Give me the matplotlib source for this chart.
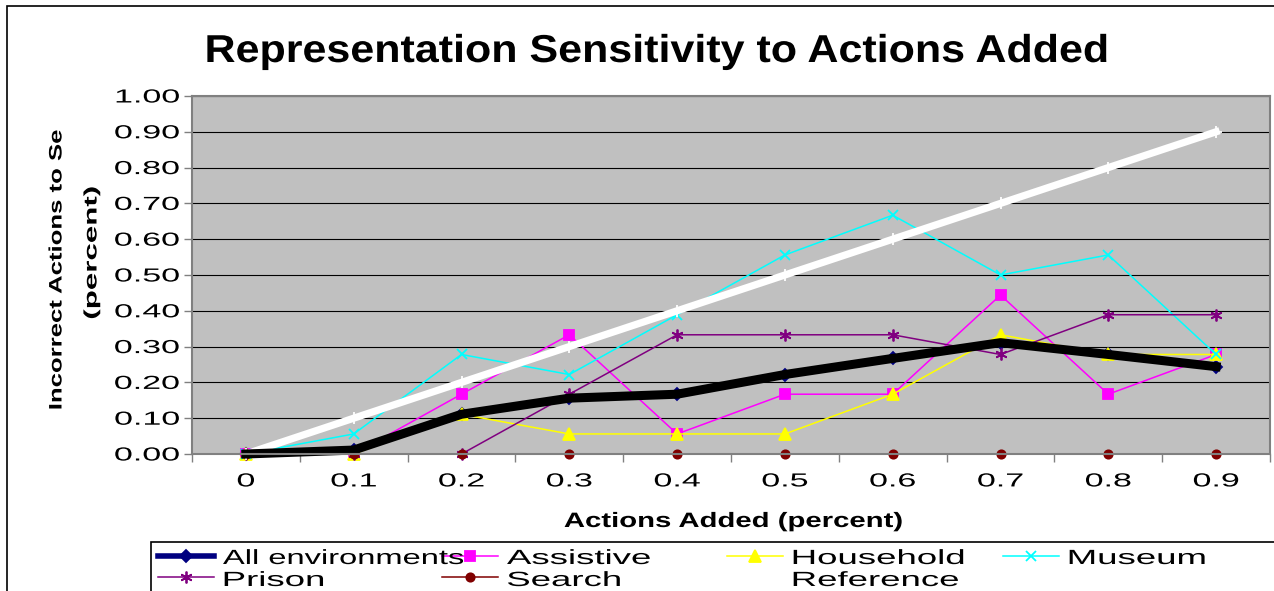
import matplotlib
matplotlib.use('Agg')
import numpy as np
import matplotlib.pyplot as plt
from matplotlib.patheffects import AbstractPathEffect
from matplotlib.transforms import Affine2D
from matplotlib.lines import Line2D
from matplotlib.patches import Rectangle

plt.rcParams['font.family'] = ['Liberation Sans', 'DejaVu Sans']

W, H = 1274, 591

# ---- data ----
actions_added = ['0', '0.1', '0.2', '0.3', '0.4', '0.5', '0.6', '0.7', '0.8', '0.9']
all_env = [0.0, 0.011, 0.111, 0.156, 0.167, 0.222, 0.267, 0.311, 0.278, 0.244]
assistive = [0.0, 0.0, 0.167, 0.333, 0.056, 0.167, 0.167, 0.444, 0.167, 0.278]
household = [0.0, 0.0, 0.111, 0.056, 0.056, 0.056, 0.167, 0.333, 0.278, 0.278]
museum = [0.0, 0.056, 0.278, 0.222, 0.389, 0.556, 0.667, 0.500, 0.556, 0.278]
prison = [0.0, 0.0, 0.0, 0.167, 0.333, 0.333, 0.333, 0.278, 0.389, 0.389]
search = [0.0, 0.0, 0.0, 0.0, 0.0, 0.0, 0.0, 0.0, 0.0, 0.0]
reference = [0.0, 0.1, 0.2, 0.3, 0.4, 0.5, 0.6, 0.7, 0.8, 0.9]
y_ticks = [0.0, 0.1, 0.2, 0.3, 0.4, 0.5, 0.6, 0.7, 0.8, 0.9, 1.0]

ASTERISK = (6, 2, 0)
series = [
    # label, values, color, marker, marker size, line width
    ('All environments', all_env, '#000080', 'D', 6, 4.0),
    ('Assistive', assistive, '#FF00FF', 's', 6.5, 1.1),
    ('Household', household, '#FFFF00', '^', 8, 1.1),
    ('Museum', museum, '#00FFFF', 'x', 7, 1.1),
    ('Prison', prison, '#800080', ASTERISK, 8.5, 1.1),
    ('Search', search, '#800000', 'o', 6, 1.1),
    ('Reference', reference, '#FFFFFF', '+', 8, 5.2),
]


class Stretch(AbstractPathEffect):
    """Widen text glyphs horizontally around a fixed anchor."""
    def __init__(self, sx, anchor='center'):
        super().__init__()
        self.sx = sx
        self.anchor = anchor

    def draw_path(self, renderer, gc, tpath, affine, rgbFace=None):
        ext = tpath.get_extents()
        x0 = {'left': ext.x0, 'right': ext.x1}.get(self.anchor, (ext.x0 + ext.x1) / 2)
        t = Affine2D().translate(-x0, 0).scale(self.sx, 1).translate(x0, 0) + affine
        renderer.draw_path(gc, tpath, t, rgbFace)


def fx(x):
    return x / W


def fy(y):
    return 1 - y / H


fig = plt.figure(figsize=(W / 100, H / 100), dpi=100)
renderer = fig.canvas.get_renderer()


def fit(txt, target, anchor='center', vertical=False):
    bb = txt.get_window_extent(renderer)
    length = bb.height if vertical else bb.width
    txt.set_path_effects([Stretch(target / length, anchor)])


# outer chart border (only left/top fall inside the image)
fig.add_artist(Rectangle((fx(7), -0.2), 1.2, fy(6) + 0.2, transform=fig.transFigure,
                         fill=False, edgecolor='black', lw=1.2))

ax = fig.add_axes([fx(192), fy(454), (1270 - 192) / W, (454 - 96) / H])
ax.set_facecolor('#C0C0C0')
x = np.arange(len(actions_added))

for label, vals, color, marker, ms, lw in series:
    ax.plot(x, vals, color=color, lw=lw, marker=marker, ms=ms, mew=1.3,
            mec=color, mfc=color, clip_on=False, solid_joinstyle='miter')
# heavy overall trend on top
ax.plot(x, all_env, color='black', lw=6.5, clip_on=False, solid_joinstyle='round')

ax.set_xlim(-0.5, 9.5)
ax.set_ylim(0, 1)
ax.set_yticks(y_ticks)
ax.set_yticklabels(['%.2f' % v for v in y_ticks], fontsize=13.6)
ax.set_xticks(x)
ax.set_xticklabels(actions_added, fontsize=13.6)
ax.set_xticks(np.arange(-0.5, 10, 1), minor=True)
ax.tick_params(axis='x', which='major', length=0, pad=14)
ax.tick_params(axis='x', which='minor', length=6, color='#808080', width=1)
ax.tick_params(axis='y', length=6, color='#808080', width=1, pad=3)
ax.yaxis.grid(True, color='black', lw=0.8)
ax.set_axisbelow(True)
for sp in ax.spines.values():
    sp.set_color('#808080')
    sp.set_linewidth(1.5)

fig.canvas.draw()
for lab in ax.get_yticklabels():
    lab.set_path_effects([Stretch(1.8, 'right')])
for lab in ax.get_xticklabels():
    lab.set_path_effects([Stretch(1.8, 'center')])

# titles
t = fig.text(fx(657), fy(62), 'Representation Sensitivity to Actions Added',
             fontsize=28, fontweight='bold', ha='center', va='baseline')
fit(t, 905)
t = fig.text(fx(734), fy(527), 'Actions Added (percent)',
             fontsize=15, fontweight='bold', ha='center', va='baseline')
fit(t, 341)
t = fig.text(fx(57), fy(270), 'Incorrect Actions to Se', fontsize=13,
             fontweight='bold', rotation=90, ha='center', va='center')
fit(t, 280, vertical=True)
t = fig.text(fx(92), fy(253), '(percent)', fontsize=13,
             fontweight='bold', rotation=90, ha='center', va='center')
fit(t, 133, vertical=True)

# legend box
fig.add_artist(Rectangle((fx(151), -0.2), 1.2, fy(542) + 0.2, transform=fig.transFigure,
                         fill=False, edgecolor='black', lw=1.2))
cols = [158, 442, 727, 1003]
rows = [(556, 564), (577, 586)]
for i, (label, vals, color, marker, ms, lw) in enumerate(series):
    c, r = i % 4, i // 4
    x0 = cols[c]
    yl, yb = rows[r]
    fig.add_artist(Line2D([fx(x0), fx(x0 + 56)], [fy(yl), fy(yl)], transform=fig.transFigure,
                          color=color, lw=lw))
    fig.add_artist(Line2D([fx(x0 + 28)], [fy(yl)], transform=fig.transFigure, color=color,
                          marker=marker, ms=ms, mew=1.3, mec=color, mfc=color, lw=0))
    t = fig.text(fx(x0 + 65), fy(yb), label, fontsize=14.8, ha='left', va='baseline')
    if i == 0:
        fit(t, 240, 'left')
    else:
        t.set_path_effects([Stretch(1.78, 'left')])

fig.savefig('out.png', dpi=100)
